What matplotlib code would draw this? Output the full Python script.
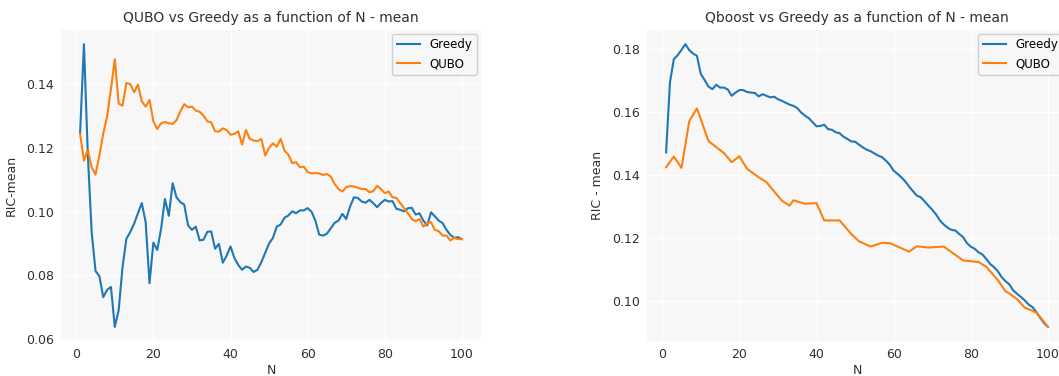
import numpy as np
import matplotlib
matplotlib.use("Agg")
import matplotlib.pyplot as plt

# -------- DATA --------
n_values = list(range(1, 101))

qubo_greedy = [
    0.1246, 0.1525, 0.1180, 0.0936, 0.0814, 0.0798, 0.0732, 0.0755, 0.0764, 0.0639,
    0.0691, 0.0826, 0.0915, 0.0936, 0.0962, 0.0995, 0.1027, 0.0967, 0.0776, 0.0903,
    0.0880, 0.0946, 0.1040, 0.0987, 0.1089, 0.1045, 0.1030, 0.1022, 0.0957, 0.0943,
    0.0953, 0.0910, 0.0912, 0.0937, 0.0938, 0.0884, 0.0899, 0.0840, 0.0862, 0.0891,
    0.0855, 0.0833, 0.0818, 0.0828, 0.0824, 0.0811, 0.0818, 0.0842, 0.0871, 0.0900,
    0.0918, 0.0953, 0.0960, 0.0981, 0.0988, 0.1001, 0.0995, 0.1004, 0.1004, 0.1011,
    0.1000, 0.0972, 0.0928, 0.0925, 0.0931, 0.0948, 0.0965, 0.0972, 0.0993, 0.0977,
    0.1016, 0.1045, 0.1043, 0.1032, 0.1028, 0.1037, 0.1027, 0.1014, 0.1027, 0.1037,
    0.1032, 0.1033, 0.1009, 0.1006, 0.1001, 0.1011, 0.1012, 0.0991, 0.0995, 0.0972,
    0.0957, 0.0998, 0.0985, 0.0972, 0.0964, 0.0943, 0.0927, 0.0918, 0.0920, 0.0914,
]

qubo_qubo = [
    0.1244, 0.1160, 0.1193, 0.1139, 0.1116, 0.1176, 0.1244, 0.1298, 0.1384, 0.1478,
    0.1339, 0.1332, 0.1403, 0.1400, 0.1374, 0.1398, 0.1346, 0.1329, 0.1350, 0.1283,
    0.1259, 0.1277, 0.1281, 0.1277, 0.1275, 0.1287, 0.1314, 0.1337, 0.1327, 0.1329,
    0.1317, 0.1313, 0.1301, 0.1283, 0.1280, 0.1252, 0.1251, 0.1261, 0.1256, 0.1241,
    0.1244, 0.1252, 0.1210, 0.1256, 0.1228, 0.1223, 0.1221, 0.1228, 0.1176, 0.1200,
    0.1214, 0.1204, 0.1228, 0.1191, 0.1179, 0.1152, 0.1155, 0.1139, 0.1141, 0.1124,
    0.1120, 0.1121, 0.1120, 0.1115, 0.1118, 0.1110, 0.1087, 0.1071, 0.1063, 0.1077,
    0.1080, 0.1079, 0.1075, 0.1071, 0.1071, 0.1061, 0.1064, 0.1081, 0.1071, 0.1058,
    0.1063, 0.1045, 0.1043, 0.1027, 0.1011, 0.0995, 0.0977, 0.0970, 0.0977, 0.0953,
    0.0964, 0.0967, 0.0943, 0.0939, 0.0925, 0.0925, 0.0910, 0.0918, 0.0914, 0.0914,
]

qboost_greedy = [
    0.1472, 0.1694, 0.1768, 0.1781, 0.1798, 0.1816, 0.1797, 0.1786, 0.1779, 0.1721,
    0.1702, 0.1681, 0.1673, 0.1687, 0.1678, 0.1678, 0.1672, 0.1652, 0.1662, 0.1670,
    0.1670, 0.1664, 0.1662, 0.1661, 0.1650, 0.1657, 0.1652, 0.1647, 0.1649, 0.1641,
    0.1636, 0.1630, 0.1624, 0.1620, 0.1613, 0.1599, 0.1589, 0.1581, 0.1568, 0.1555,
    0.1556, 0.1560, 0.1546, 0.1544, 0.1536, 0.1533, 0.1522, 0.1515, 0.1507, 0.1506,
    0.1497, 0.1488, 0.1481, 0.1476, 0.1469, 0.1462, 0.1457, 0.1446, 0.1433, 0.1414,
    0.1404, 0.1393, 0.1380, 0.1364, 0.1349, 0.1335, 0.1330, 0.1317, 0.1303, 0.1290,
    0.1275, 0.1256, 0.1243, 0.1233, 0.1226, 0.1224, 0.1213, 0.1203, 0.1184, 0.1173,
    0.1166, 0.1155, 0.1148, 0.1134, 0.1118, 0.1108, 0.1095, 0.1076, 0.1063, 0.1053,
    0.1034, 0.1023, 0.1013, 0.1002, 0.0989, 0.0981, 0.0965, 0.0947, 0.0930, 0.0918,
]

# the Qboost curve only has corners at these N
qboost_n = [1, 3, 5, 7, 9, 12, 16, 18, 20, 22, 25, 27, 31, 33, 34, 37, 40, 42, 46, 49,
            51, 54, 57, 59, 64, 66, 69, 73, 78, 82, 84, 87, 89, 90, 92, 94, 96, 97, 98, 100]
qboost_qubo = [0.1425, 0.1459, 0.1423, 0.1571, 0.1612, 0.1508, 0.1470, 0.1441, 0.1460, 0.1420,
               0.1393, 0.1378, 0.1319, 0.1303, 0.1320, 0.1309, 0.1311, 0.1256, 0.1256, 0.1213,
               0.1190, 0.1173, 0.1185, 0.1184, 0.1157, 0.1174, 0.1170, 0.1173, 0.1129, 0.1124,
               0.1109, 0.1067, 0.1031, 0.1024, 0.1006, 0.0979, 0.0969, 0.0963, 0.0949, 0.0918]

# -------- STYLE --------
plt.rcParams['font.family'] = ['DejaVu Sans']
bg = '#f7f7f7'
text_col = '#303030'

fig = plt.figure(figsize=(10.59, 3.76), dpi=100)
ax1 = fig.add_axes([61 / 1059, 35 / 376, 420 / 1059, 311 / 376])
ax2 = fig.add_axes([647 / 1059, 35 / 376, 420 / 1059, 311 / 376])


def style_axes(ax):
    ax.set_facecolor(bg)
    ax.grid(True, color='white', linewidth=1.0)
    ax.set_axisbelow(True)
    for s in ax.spines.values():
        s.set_visible(False)
    ax.tick_params(length=0, labelsize=9, colors=text_col, pad=5)
    ax.set_xticks([0, 20, 40, 60, 80, 100])


# -------- LEFT: QUBO vs Greedy --------
ax1.plot(n_values, qubo_greedy, color='#1f77b4', linewidth=1.5, label='Greedy')
ax1.plot(n_values, qubo_qubo, color='#ff7f0e', linewidth=1.5, label='QUBO')
style_axes(ax1)
ax1.set_yticks([0.06, 0.08, 0.10, 0.12, 0.14])
ax1.set_title('QUBO vs Greedy as a function of N - mean', fontsize=10, color=text_col)
ax1.set_xlabel('N', fontsize=9, color=text_col, labelpad=2)
ax1.set_ylabel('RIC-mean', fontsize=9, color=text_col, labelpad=6)
ax1.legend(loc='upper right', fontsize=8.5, facecolor=bg, edgecolor='#d0d0d0',
           framealpha=1, borderaxespad=0.3)

# -------- RIGHT: Qboost vs Greedy --------
ax2.plot(n_values, qboost_greedy, color='#1f77b4', linewidth=1.5, label='Greedy')
ax2.plot(qboost_n, qboost_qubo, color='#ff7f0e', linewidth=1.5, label='QUBO')
style_axes(ax2)
ax2.set_xlim(-3.95, 104.95)
ax2.set_yticks([0.10, 0.12, 0.14, 0.16, 0.18])
ax2.set_title('Qboost vs Greedy as a function of N - mean', fontsize=10, color=text_col)
ax2.set_xlabel('N', fontsize=9, color=text_col, labelpad=2)
ax2.set_ylabel('RIC - mean', fontsize=9, color=text_col, labelpad=6)
ax2.legend(loc='upper right', fontsize=8.5, facecolor=bg, edgecolor='#d0d0d0',
           framealpha=1, borderaxespad=0.3)

fig.savefig('out.png', dpi=100)
